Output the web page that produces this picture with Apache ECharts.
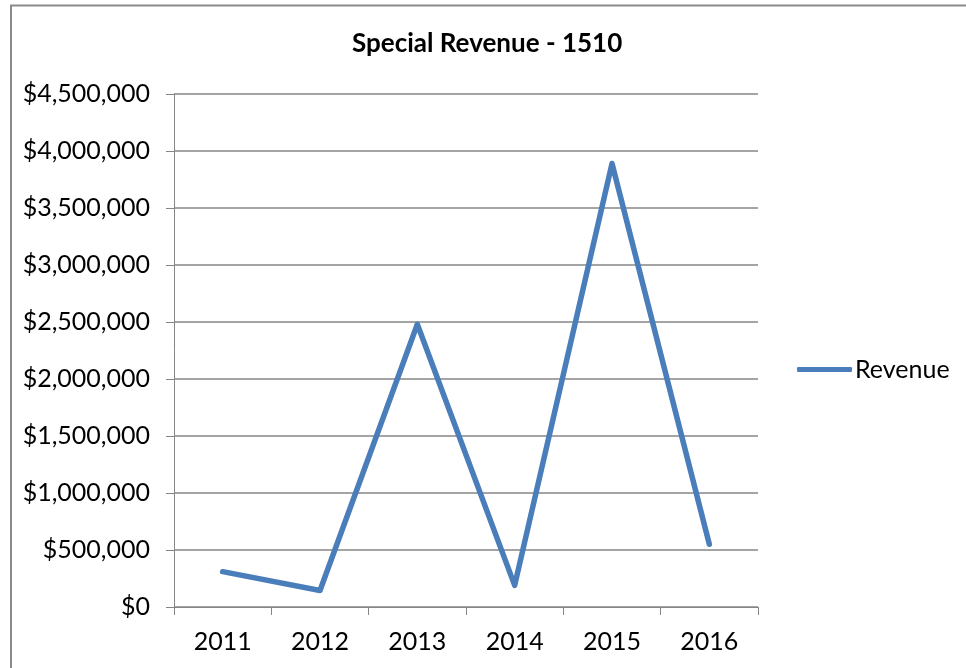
<!DOCTYPE html>
<html>
<head>
<meta charset="utf-8">
<script src="https://cdn.jsdelivr.net/npm/echarts@6/dist/echarts.min.js"></script>
<style>
html,body{margin:0;padding:0;background:#fff;}
#chart{width:966px;height:668px;}
</style>
</head>
<body>
<div id="chart"></div>
<script>
const categories = ['2011', '2012', '2013', '2014', '2015', '2016'];
const revenue = [310000, 145000, 2480000, 190000, 3890000, 550000];
const seriesName = 'Revenue';
const chartTitle = 'Special Revenue - 1510';

const chart = echarts.init(document.getElementById('chart'));
const gray = '#868686';
const fontFamily = 'Lato';
chart.setOption({
  animation: false,
  backgroundColor: '#fff',
  title: {
    text: chartTitle,
    left: 347,
    top: 26,
    textStyle: { fontFamily: fontFamily, fontWeight: 'bold', fontSize: 26, color: '#000' }
  },
  legend: {
    data: [seriesName],
    left: 792,
    top: 352,
    icon: 'roundRect',
    itemWidth: 55,
    itemHeight: 5,
    textStyle: { fontFamily: fontFamily, fontSize: 25, color: '#000', padding: [0, 0, 0, -2] }
  },
  grid: { left: 174, right: 208, top: 94, bottom: 61, containLabel: false },
  xAxis: {
    type: 'category',
    data: categories,
    boundaryGap: true,
    axisLine: { show: true, lineStyle: { color: gray, width: 1 } },
    axisTick: { show: true, length: 8, lineStyle: { color: gray } },
    axisLabel: { margin: 22, fontFamily: fontFamily, fontSize: 25, color: '#000' },
    splitLine: { show: false }
  },
  yAxis: {
    type: 'value',
    min: 0,
    max: 4500000,
    interval: 500000,
    axisLine: { show: true, lineStyle: { color: gray, width: 1 } },
    axisTick: { show: true, length: 8, lineStyle: { color: gray } },
    axisLabel: {
      margin: 24, fontFamily: fontFamily, fontSize: 25, color: '#000',
      formatter: v => '$' + v.toLocaleString('en-US')
    },
    splitLine: { show: true, lineStyle: { color: gray, width: 1.5 } }
  },
  graphic: [{
    type: 'rect',
    shape: { x: 11, y: 5.5, width: 1000, height: 700 },
    style: { fill: 'none', stroke: '#8a8a8a', lineWidth: 2 },
    silent: true
  }],
  series: [{
    name: seriesName,
    type: 'line',
    data: revenue,
    showSymbol: false,
    symbol: 'none',
    color: '#4A7EBB',
    lineStyle: { color: '#4A7EBB', width: 5.5, cap: 'round', join: 'round' }
  }]
});
</script>
</body>
</html>
